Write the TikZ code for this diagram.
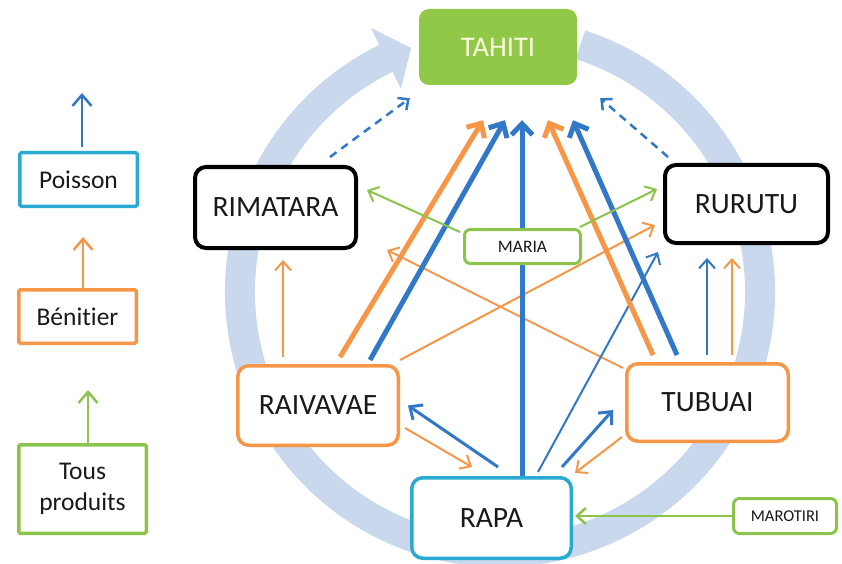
\documentclass[tikz,border=0pt]{standalone}
\usepackage{fontspec}
\setmainfont{Carlito}[Ligatures={NoCommon,NoContextual}]
\usetikzlibrary{arrows.meta}
\definecolor{ringc}{RGB}{201,216,237}
\definecolor{bl}{RGB}{50,120,200}
\definecolor{orc}{RGB}{247,150,70}
\definecolor{grc}{RGB}{140,195,75}
\definecolor{cyc}{RGB}{40,170,210}
\definecolor{tahg}{RGB}{146,200,72}
\definecolor{taht}{RGB}{250,250,225}
\definecolor{txt}{RGB}{25,25,25}
\begin{document}
\begin{tikzpicture}[x=1pt,y=-1pt,
  every node/.style={inner sep=0pt, text=txt},
  isle/.style={draw, fill=white, rounded corners=11pt, line width=3.5pt, font=\fontsize{29.5}{32}\selectfont},
  small/.style={draw=grc, fill=white, rounded corners=6pt, line width=3pt},
  leg/.style={draw, fill=white, rounded corners=1.5pt, line width=3.5pt, font=\fontsize{25.5}{31}\selectfont, align=center},
  thickar/.style={line width=5pt, -{Straight Barb[length=11pt,width=21pt]}},
  medar/.style={line width=3pt, -{Straight Barb[length=10pt,width=18pt]}},
  thinar/.style={line width=2pt, -{Straight Barb[length=9pt,width=16pt]}},
  legar/.style={line width=2.5pt, -{Straight Barb[length=11pt,width=19pt]}},
  dashar/.style={line width=2.5pt, dash pattern=on 8pt off 6pt, -{Straight Barb[length=8pt,width=15pt]}}
]
\useasboundingbox (0,0) rectangle (842,564);
\fill[white] (0,0) rectangle (842,564);

% ring
\draw[ringc, line width=30pt] (500,292) ++(-72:260) arc[start angle=-72, end angle=244.5, radius=260];
\fill[ringc] (401,89) -- (371,28) -- (411,48) -- cycle;

% legend
\node[leg, draw=cyc, minimum width=117.5pt, minimum height=53.5pt] (poisson) at (78.5,179.5) {Poisson};
\node[leg, draw=orc, minimum width=117.5pt, minimum height=53.5pt] (benitier) at (77.5,316.5) {Bénitier};
\node[leg, draw=grc, minimum width=127.5pt, minimum height=88.5pt] (tous) at (82.5,489) {Tous\\produits};
\draw[bl, legar] ([xshift=3.5pt,yshift=4pt]poisson.north) -- ([xshift=3.5pt,yshift=58pt]poisson.north);
\draw[orc, legar] ([xshift=5.5pt]benitier.north) -- ([xshift=5.5pt,yshift=51pt]benitier.north);
\draw[grc, legar] ([xshift=5.5pt]tous.north) -- ([xshift=5.5pt,yshift=53pt]tous.north);

% islands
\node[draw=none, fill=tahg, rounded corners=10pt, minimum width=158pt, minimum height=76pt, text=taht, font=\fontsize{28.5}{30}\selectfont] (tahiti) at (498,47) {TAHITI};
\node[isle, draw=black, line width=4pt, minimum width=161pt, minimum height=81pt] (rimatara) at (275.5,207.5) {RIMATARA};
\node[isle, draw=black, line width=4pt, minimum width=163pt, minimum height=78pt] (rurutu) at (746.5,204) {RURUTU};
\node[isle, draw=orc, minimum width=160.5pt, minimum height=79.5pt] (raivavae) at (318,405.5) {RAIVAVAE};
\node[isle, draw=orc, minimum width=161.5pt, minimum height=77.5pt] (tubuai) at (707.5,402.5) {TUBUAI};
\node[isle, draw=cyc, minimum width=159.5pt, minimum height=80.5pt] (rapa) at (491.5,518) {RAPA};
\node[small, minimum width=103pt, minimum height=35pt, font=\fontsize{16.5}{20}\selectfont] (marotiri) at (785,516) {MAROTIRI};

% dashed to Tahiti
\draw[bl, dashar] ([xshift=-28pt,yshift=8pt]rimatara.north east) -- ([xshift=-9pt,yshift=-13pt]tahiti.south west);
\draw[bl, dashar] ([xshift=5pt,yshift=6pt]rurutu.north west) -- ([xshift=23pt,yshift=-13pt]tahiti.south east);

% thin arrows
\draw[orc, thinar] ([xshift=-35pt,yshift=7pt]raivavae.north) -- ([xshift=7.5pt,yshift=-10pt]rimatara.south);
\draw[orc, thinar] ([yshift=4pt]raivavae.north east) -- ([xshift=-8pt,yshift=-21pt]rurutu.west);
\draw[orc, thinar] ([xshift=-2pt,yshift=-6pt]tubuai.north west) -- ([xshift=29pt]rimatara.south east);
\draw[bl, thinar] ([xshift=-0.5pt,yshift=7pt]tubuai.north) -- ([xshift=-39.5pt,yshift=-13pt]rurutu.south);
\draw[orc, thinar] ([xshift=24.5pt,yshift=7pt]tubuai.north) -- ([xshift=-14.5pt,yshift=-13pt]rurutu.south);
\draw[bl, thinar] ([xshift=46.5pt,yshift=4pt]rapa.north) -- ([xshift=-5pt,yshift=-7pt]rurutu.south west);
\draw[orc, thinar] ([xshift=5pt,yshift=-22.5pt]raivavae.east) -- ([xshift=-19.5pt,yshift=9pt]rapa.north);
\draw[orc, thinar] ([xshift=-3pt,yshift=6pt]tubuai.south west) -- ([xshift=2pt,yshift=3pt]rapa.north east);
\draw[grc, thinar, line width=2.5pt] (marotiri.west) -- ([xshift=2pt]marotiri.west -| rapa.east);

% medium arrows
\draw[bl, medar] ([xshift=70.5pt,yshift=9pt]rapa.north) -- ([xshift=-12pt,yshift=-7.5pt]tubuai.west);
\draw[bl, medar] ([xshift=6.5pt,yshift=9pt]rapa.north) -- ([xshift=8pt]raivavae.east);

% thick arrows to Tahiti
\draw[orc, thickar] ([xshift=22pt,yshift=7pt]raivavae.north) -- ([xshift=-15pt,yshift=-35pt]tahiti.south);
\draw[bl, thickar] ([xshift=52pt,yshift=4pt]raivavae.north) -- ([xshift=7pt,yshift=-35pt]tahiti.south);
\draw[bl, thickar] ([xshift=30.5pt]rapa.north) -- ([xshift=24pt,yshift=-35pt]tahiti.south);
\draw[orc, thickar] ([xshift=-54.5pt,yshift=7pt]tubuai.north) -- ([xshift=50pt,yshift=-35pt]tahiti.south);
\draw[bl, thickar] ([xshift=-30.5pt,yshift=7pt]tubuai.north) -- ([xshift=75pt,yshift=-35pt]tahiti.south);

% Maria
\node[small, minimum width=116pt, minimum height=34pt, font=\fontsize{17.5}{20}\selectfont] (maria) at (522.5,246.5) {MARIA};
\draw[grc, thinar] ([xshift=-3pt,yshift=-4pt]maria.north west) -- ([xshift=9pt,yshift=17.5pt]rimatara.east);
\draw[grc, thinar] ([xshift=-2pt,yshift=1pt]maria.north east) -- ([xshift=-6pt,yshift=15pt]rurutu.west);
\end{tikzpicture}
\end{document}
